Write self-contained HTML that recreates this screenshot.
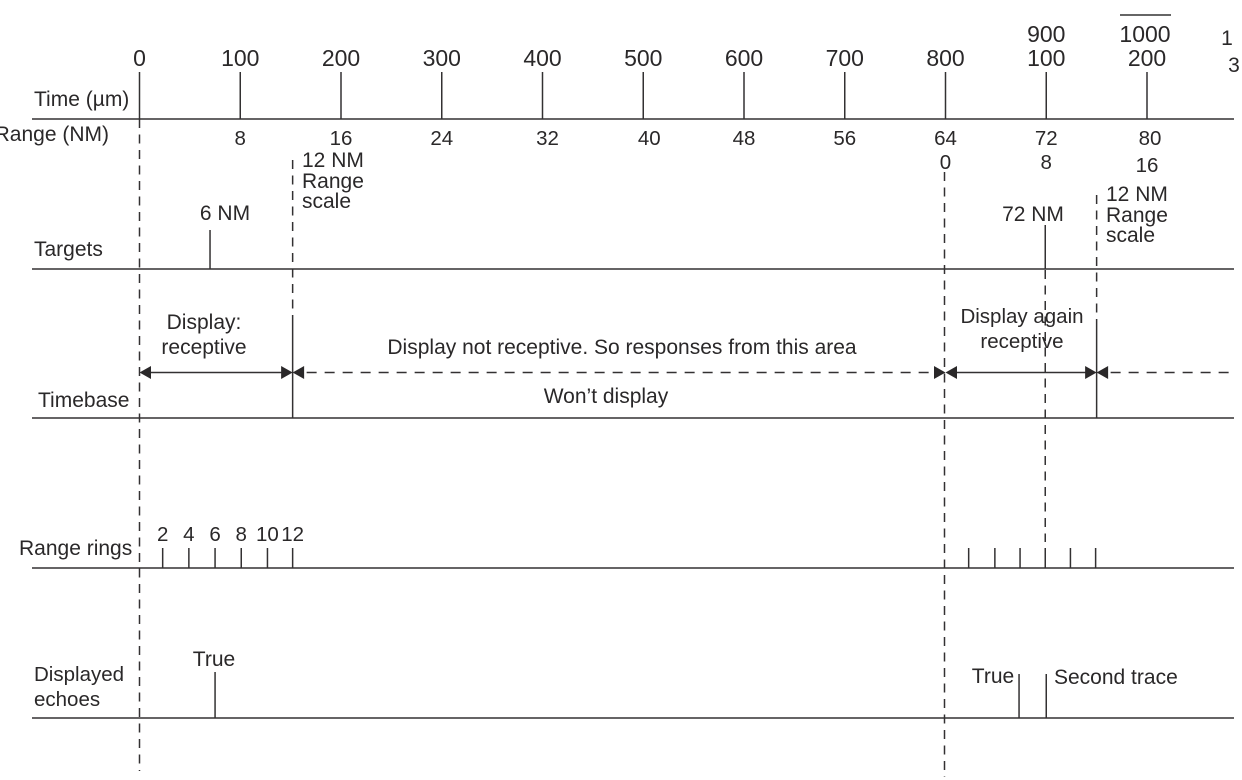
<!DOCTYPE html>
<html lang="en">
<head>
<meta charset="utf-8">
<title>Radar second trace echo timing diagram</title>
<style>
html,body{margin:0;padding:0;background:#fff;width:1242px;height:780px;overflow:hidden}
svg{display:block}
text{font-family:"Liberation Sans",sans-serif;fill:#2a2829;font-size:21px}
.tick{font-size:23px}
.rng{font-size:20.5px}
.mid{text-anchor:middle}
</style>
</head>
<body>
<svg id="chart" xmlns="http://www.w3.org/2000/svg" width="1242" height="780" viewBox="0 0 1242 780">
  <g>
    <text x="34" y="106">Time (µm)</text>
    <text x="109" y="141" text-anchor="end">Range (NM)</text>
    <text x="34" y="256">Targets</text>
    <text x="38" y="407">Timebase</text>
    <text x="19" y="555">Range rings</text>
    <text x="34" y="681" style="font-size:20.5px">Displayed</text>
    <text x="34" y="706" style="font-size:20.5px">echoes</text>
  </g>
  <g>
    <text x="302" y="167">12 NM</text>
    <text x="302" y="188">Range</text>
    <text x="302" y="208">scale</text>
    <text x="1106" y="201">12 NM</text>
    <text x="1106" y="222">Range</text>
    <text x="1106" y="242">scale</text>
    <text class="mid" x="225" y="220">6 NM</text>
    <text class="mid" x="1033" y="221">72 NM</text>
    <text class="mid" x="204" y="329">Display:</text>
    <text class="mid" x="204" y="354">receptive</text>
    <text class="mid" x="622" y="354">Display not receptive. So responses from this area</text>
    <text class="mid" x="606" y="403">Won’t display</text>
    <text class="mid" x="1022" y="323" style="font-size:20.5px">Display again</text>
    <text class="mid" x="1022" y="348" style="font-size:20.5px">receptive</text>
    <text class="mid" x="214" y="666">True</text>
    <text class="mid" x="993" y="683">True</text>
    <text x="1054" y="684">Second trace</text>
    <text class="mid" x="1227" y="45">1</text>
    <text class="mid" x="1234" y="72">3</text>
    <line x1="1120" y1="15" x2="1171" y2="15" stroke="#333" stroke-width="1.5"/>
  </g>
</svg>
<script>
// Time axis (microseconds)
const timeTicks = [0, 100, 200, 300, 400, 500, 600, 700, 800, 900, 1000];
const timeLabels = ['0', '100', '200', '300', '400', '500', '600', '700', '800', '100', '200'];
const secondTraceTicks = [900, 1000];
const secondTraceLabels = ['900', '1000'];
// Range labels (nautical miles) and the time they sit under
const rangeValues = [8, 16, 24, 32, 40, 48, 56, 64, 72, 80];
const rangeTimes = [100, 200, 300, 405, 506, 600, 700, 800, 900, 1003];
const secondRangeValues = [0, 8, 16];
const secondRangeTimes = [800, 900, 1000];
// Marks on each row, in microseconds
const targetTimes = [70, 899];
const targetHeights = [39, 44];
const ringTimes = [23, 49, 75, 101, 127, 152];
const ringLabels = ['2', '4', '6', '8', '10', '12'];
const secondRingTimes = [823, 849, 874, 899, 924, 949];
const echoTimes = [75, 873, 900];
const echoHeights = [46, 44, 44];
const gateTimes = [152, 950];
const gateHeights = [102, 98];
const receptiveSpans = [[0, 152], [800, 950]];
const deadSpans = [[152, 800], [950, 1087]];

const svg = document.getElementById('chart');
const NS = 'http://www.w3.org/2000/svg';
const rowY = {time: 119, targets: 269, timebase: 418, rings: 568, echoes: 718};
const INK = '#333132';
function x(t) { return 139.5 + t * 1.0075; }
function line(x1, y1, x2, y2, name, dash, w) {
  const el = document.createElementNS(NS, 'line');
  el.setAttribute('x1', x1);
  el.setAttribute('y1', y1);
  el.setAttribute('x2', x2);
  el.setAttribute('y2', y2);
  el.setAttribute('stroke', INK);
  el.setAttribute('stroke-width', w || 1.5);
  if (dash) el.setAttribute('stroke-dasharray', dash);
  
  
  svg.appendChild(el);
  return el;
}
function label(str, px, py, name, cls) {
  const el = document.createElementNS(NS, 'text');
  el.setAttribute('x', px);
  el.setAttribute('y', py);
  el.setAttribute('class', cls);
  el.textContent = str;
  
  
  svg.appendChild(el);
}
function arrowHead(px, py, dir, name) {
  const el = document.createElementNS(NS, 'polygon');
  el.setAttribute('points', px + ',' + py + ' ' + (px + dir * 11.5) + ',' + (py - 6.5) + ' ' + (px + dir * 11.5) + ',' + (py + 6.5));
  el.setAttribute('fill', '#2a2829');
  
  
  svg.appendChild(el);
}
// Row baselines
Object.keys(rowY).forEach(function (k) {
  line(32, rowY[k], 1234, rowY[k], k + '-baseline');
});
// Time ticks
timeTicks.forEach(function (t, i) {
  line(x(t), 72, x(t), rowY.time, 'time-tick-' + t);
  label(timeLabels[i], x(t), 66, 'time-tick-label-' + t, 'tick mid');
});
secondTraceTicks.forEach(function (t, i) {
  label(secondTraceLabels[i], x(t) - (t === 1000 ? 2 : 0), 42, 'second-scale-label-' + t, 'tick mid');
});
// Range labels
rangeValues.forEach(function (v, i) {
  label(String(v), x(rangeTimes[i]), 145, 'range-label-' + v, 'rng mid');
});
secondRangeValues.forEach(function (v, i) {
  label(String(v), x(secondRangeTimes[i]), v === 16 ? 172 : 169, 'second-range-label-' + v, 'rng mid');
});
// Dashed guides
line(139.5, 119, 139.5, 771, 'guide-time-0', '9 6.5');
line(x(152), 160, x(152), 316, 'guide-range-scale-first', '9 6.5');
line(x(800) - 1, 172, x(800) - 1, 777, 'guide-time-800', '9 6.5');
line(x(899), 270, x(899), 542, 'guide-target-72nm', '9 6.5');
line(x(950), 195, x(950), 320, 'guide-range-scale-second', '9 6.5');
// Targets
targetTimes.forEach(function (t, i) {
  line(x(t), rowY.targets - targetHeights[i], x(t), rowY.targets, 'target-mark-' + i);
});
// Timebase gates
gateTimes.forEach(function (t, i) {
  line(x(t), rowY.timebase - gateHeights[i], x(t), rowY.timebase, 'timebase-gate-' + i);
});
// Spans
receptiveSpans.forEach(function (s, i) {
  const a = x(s[0]), b = x(s[1]);
  line(a + 8, 372.5, b - 8, 372.5, 'receptive-span-' + i);
  arrowHead(a, 372.5, 1, 'receptive-span-start-arrow-' + i);
  arrowHead(b, 372.5, -1, 'receptive-span-end-arrow-' + i);
});
deadSpans.forEach(function (s, i) {
  const a = x(s[0]), b = x(s[1]);
  line(a + 14, 372.5, b - 2, 372.5, 'dead-span-' + i, '10 8');
  arrowHead(a, 372.5, 1, 'dead-span-start-arrow-' + i);
  if (i === 0) arrowHead(b, 372.5, -1, 'dead-span-end-arrow-' + i);
});
// Range rings
ringTimes.forEach(function (t, i) {
  line(x(t), 548, x(t), rowY.rings, 'range-ring-' + ringLabels[i]);
  label(ringLabels[i], x(t), 541, 'range-ring-label-' + ringLabels[i], 'rng mid');
});
secondRingTimes.forEach(function (t, i) {
  line(x(t), 548, x(t), rowY.rings, 'second-range-ring-' + i);
});
// Echoes
echoTimes.forEach(function (t, i) {
  line(x(t), rowY.echoes - echoHeights[i], x(t), rowY.echoes, 'echo-mark-' + i);
});
</script>
</body>
</html>
